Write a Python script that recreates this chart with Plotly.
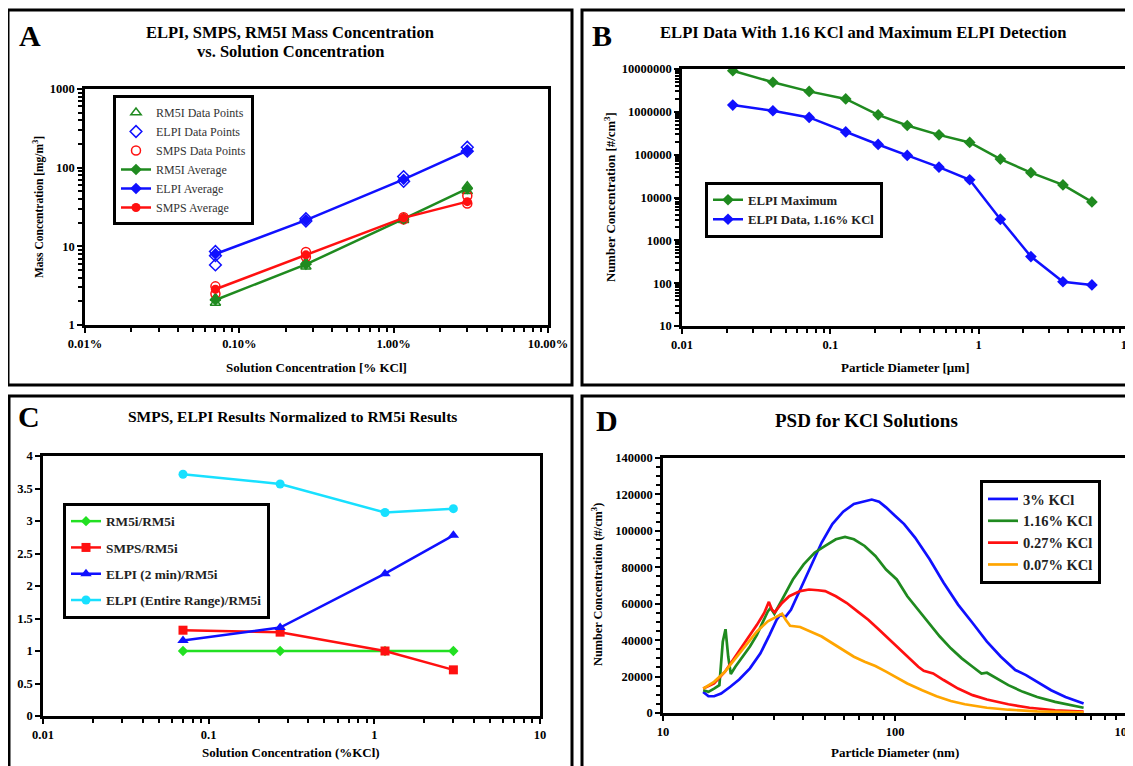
import plotly.graph_objects as go

FONT = "Liberation Serif"

# ---------------- Panel A data ----------------
a_conc = [0.07, 0.27, 1.16, 3.0]
a_rm5i_pts_x = [0.07, 0.07, 0.27, 0.27, 1.16, 1.16, 3.0, 3.0]
a_rm5i_pts_y = [1.9, 2.2, 5.5, 6.3, 21.5, 23.0, 50.0, 58.0]
a_elpi_pts_x = [0.07, 0.07, 0.07, 0.27, 0.27, 1.16, 1.16, 3.0, 3.0]
a_elpi_pts_y = [8.6, 5.8, 7.6, 21.0, 22.5, 77.0, 67.0, 182.0, 162.0]
a_smps_pts_x = [0.07, 0.07, 0.27, 0.27, 1.16, 1.16, 3.0, 3.0]
a_smps_pts_y = [3.1, 2.5, 8.5, 7.3, 23.5, 22.0, 44.0, 35.0]
a_rm5i_avg = [2.08, 5.9, 22.3, 54.0]
a_elpi_avg = [8.0, 21.5, 71.0, 165.0]
a_smps_avg = [2.85, 7.8, 23.0, 37.0]
a_xtick_vals = [0.01, 0.1, 1, 10]
a_xtick_text = ["0.01%", "0.10%", "1.00%", "10.00%"]
a_ytick_vals = [1, 10, 100, 1000]
a_ytick_text = ["1", "10", "100", "1000"]

# ---------------- Panel B data ----------------
b_diam = [0.022, 0.041, 0.072, 0.127, 0.21, 0.33, 0.54, 0.87, 1.4, 2.25, 3.7, 5.8]
b_max = [9.1e6, 4.9e6, 3.0e6, 2.0e6, 8.5e5, 4.8e5, 2.9e5, 1.93e5, 7.9e4, 3.8e4, 1.97e4, 7.9e3]
b_data = [1.44e6, 1.06e6, 7.4e5, 3.4e5, 1.73e5, 9.6e4, 5.1e4, 2.6e4, 3.1e3, 417, 108, 91]
b_xtick_vals = [0.01, 0.1, 1, 10]
b_xtick_text = ["0.01", "0.1", "1", "10"]
b_ytick_vals = [10, 100, 1000, 1e4, 1e5, 1e6, 1e7]
b_ytick_text = ["10", "100", "1000", "10000", "100000", "1000000", "10000000"]

# ---------------- Panel C data ----------------
c_conc = [0.07, 0.27, 1.16, 3.0]
c_rm5i = [1.0, 1.0, 1.0, 1.0]
c_smps = [1.32, 1.29, 1.0, 0.71]
c_elpi2 = [1.16, 1.36, 2.19, 2.78]
c_elpiall = [3.72, 3.57, 3.13, 3.19]
c_xtick_vals = [0.01, 0.1, 1, 10]
c_xtick_text = ["0.01", "0.1", "1", "10"]
c_ytick_vals = [0, 0.5, 1, 1.5, 2, 2.5, 3, 3.5, 4]
c_ytick_text = ["0", "0.5", "1", "1.5", "2", "2.5", "3", "3.5", "4"]

# ---------------- Panel D data ----------------
d3_x = [14.9, 15.7, 16.6, 17.8, 19.5, 21.3, 23.7, 26.3, 28.8, 30.9, 32.0, 33.8, 35.6, 39.0,
        43.4, 48.3, 53.7, 59.8, 66.5, 74.0, 79.4, 85.4, 91.5, 100, 109.5, 122, 141, 162,
        187, 216, 249, 286, 330, 367, 410, 471, 543, 650]
d3_y = [11600, 9200, 9200, 10700, 14400, 18400, 24500, 32800, 42900, 51200, 53800, 53000,
        56700, 67800, 80700, 93600, 103700, 110500, 114800, 116400, 117200, 116000, 112900,
        108300, 103700, 96300, 84400, 71500, 59500, 49400, 39200, 30900, 23600, 20800,
        17100, 12500, 8800, 5200]
d116_x = [14.9, 15.7, 16.6, 17.5, 18.1, 18.6, 19.1, 19.6, 20.5, 22.0, 23.7, 25.4, 27.3,
          28.3, 29.1, 30.2, 32.6, 36.3, 40.4, 45.0, 50.0, 55.6, 60.9, 66.5, 74.0, 82.3,
          91.5, 101.8, 113, 126, 141, 156, 174, 194, 216, 236, 249, 267, 308, 356, 410,
          490, 585, 650]
d116_y = [12500, 11600, 13400, 15300, 39200, 46000, 31000, 21400, 25400, 31000, 36500,
          42900, 51200, 55800, 57700, 54500, 62300, 73300, 81600, 88000, 91700, 95400,
          96700, 95400, 91700, 86200, 78800, 73300, 64100, 56700, 49400, 42000, 35500,
          30000, 25400, 21700, 22100, 19900, 15300, 11600, 8800, 6100, 4200, 2900]
d027_x = [14.9, 16.6, 18.5, 20.5, 22.8, 25.4, 27.3, 28.6, 29.5, 30.3, 32.6, 35.0, 39.0,
          42.6, 46.6, 50.0, 55.6, 62.0, 68.9, 76.7, 85.4, 95.0, 101.8, 113, 126, 133,
          146, 162, 187, 216, 249, 308, 380, 490, 650]
d027_y = [13400, 16200, 22700, 31000, 39200, 48400, 54900, 61000, 56700, 55300, 60400,
          64100, 66900, 67800, 67400, 66900, 64100, 60400, 55800, 51200, 45700, 40200,
          36100, 31000, 25400, 23200, 21700, 18100, 13400, 9800, 7400, 4800, 2900, 1500, 700]
d007_x = [14.9, 16.6, 18.5, 20.5, 22.8, 25.4, 28.3, 30.9, 32.6, 33.8, 35.3, 39.0, 43.4,
          48.3, 53.7, 59.8, 66.5, 74.0, 82.3, 91.5, 101.8, 113, 131, 151, 174, 200, 249,
          308, 410, 650]
d007_y = [13400, 17100, 22700, 30000, 37400, 44800, 50300, 53000, 54500, 51200, 47900,
          47200, 44800, 42000, 38300, 34600, 30900, 28200, 25800, 22700, 19500, 16200,
          12500, 9200, 6600, 4800, 2900, 1800, 900, 400]
d_xtick_vals = [10, 100, 1000]
d_xtick_text = ["10", "100", "1000"]
d_ytick_vals = [0, 20000, 40000, 60000, 80000, 100000, 120000, 140000]
d_ytick_text = ["0", "20000", "40000", "60000", "80000", "100000", "120000", "140000"]

W, H = 1133, 766
OFF = 8  # page body offset compensation


def px(x):
    return (x - OFF) / W


def py(y):
    return 1 - (y - OFF) / H


def log_minor(e0, e1):
    return [k * 10.0 ** e for e in range(e0, e1) for k in range(2, 10)]


GREEN = "#1f8a1f"
BLUE = "#1010ff"
RED = "#ff1010"
LGREEN = "#22e022"
CYAN = "#18e0ff"
ORANGE = "#ffa500"

fig = go.Figure()

# ---- Panel A traces ----
fig.add_trace(go.Scatter(x=a_rm5i_pts_x, y=a_rm5i_pts_y, mode="markers", name="RM5I Data Points",
                         marker=dict(symbol="triangle-up-open", color=GREEN, size=9, line=dict(width=1.5)),
                         xaxis="x", yaxis="y", legend="legend"))
fig.add_trace(go.Scatter(x=a_elpi_pts_x, y=a_elpi_pts_y, mode="markers", name="ELPI Data Points",
                         marker=dict(symbol="diamond-open", color=BLUE, size=9, line=dict(width=1.5)),
                         xaxis="x", yaxis="y", legend="legend"))
fig.add_trace(go.Scatter(x=a_smps_pts_x, y=a_smps_pts_y, mode="markers", name="SMPS Data Points",
                         marker=dict(symbol="circle-open", color=RED, size=9, line=dict(width=1.5)),
                         xaxis="x", yaxis="y", legend="legend"))
fig.add_trace(go.Scatter(x=a_conc, y=a_rm5i_avg, mode="lines+markers", name="RM5I Average",
                         line=dict(color=GREEN, width=2.5), marker=dict(symbol="diamond", size=9, color=GREEN),
                         xaxis="x", yaxis="y", legend="legend"))
fig.add_trace(go.Scatter(x=a_conc, y=a_elpi_avg, mode="lines+markers", name="ELPI Average",
                         line=dict(color=BLUE, width=2.5), marker=dict(symbol="diamond", size=9, color=BLUE),
                         xaxis="x", yaxis="y", legend="legend"))
fig.add_trace(go.Scatter(x=a_conc, y=a_smps_avg, mode="lines+markers", name="SMPS Average",
                         line=dict(color=RED, width=2.5), marker=dict(symbol="circle", size=9, color=RED),
                         xaxis="x", yaxis="y", legend="legend"))

# ---- Panel B traces ----
fig.add_trace(go.Scatter(x=b_diam, y=b_max, mode="lines+markers", name="ELPI Maximum",
                         line=dict(color=GREEN, width=2.5), marker=dict(symbol="diamond", size=9, color=GREEN),
                         xaxis="x2", yaxis="y2", legend="legend2"))
fig.add_trace(go.Scatter(x=b_diam, y=b_data, mode="lines+markers", name="ELPI Data, 1.16% KCl",
                         line=dict(color=BLUE, width=2.5), marker=dict(symbol="diamond", size=9, color=BLUE),
                         xaxis="x2", yaxis="y2", legend="legend2"))

# ---- Panel C traces ----
c_series = [
    ("RM5i/RM5i", c_rm5i, LGREEN, "diamond", 8),
    ("SMPS/RM5i", c_smps, RED, "square", 9),
    ("ELPI (2 min)/RM5i", c_elpi2, BLUE, "triangle-up", 10),
    ("ELPI (Entire Range)/RM5i", c_elpiall, CYAN, "circle", 9),
]
for i, (nm, vals, col, sym, sz) in enumerate(c_series):
    fig.add_trace(go.Scatter(x=c_conc, y=vals, mode="lines+markers", name=nm,
                             line=dict(color=col, width=2.5), marker=dict(symbol=sym, size=sz, color=col),
                             xaxis="x3", yaxis="y3", legend="legend3", legendgroup="c%d" % i))

# ---- Panel D traces ----
d_series = [
    ("3% KCl", d3_x, d3_y, BLUE),
    ("1.16% KCl", d116_x, d116_y, GREEN),
    ("0.27% KCl", d027_x, d027_y, RED),
    ("0.07% KCl", d007_x, d007_y, ORANGE),
]
for nm, xs, ys, col in d_series:
    fig.add_trace(go.Scatter(x=xs, y=ys, mode="lines", name=nm,
                             line=dict(color=col, width=2.7),
                             xaxis="x4", yaxis="y4", legend="legend4"))

tickfont = dict(family=FONT, size=12.5, color="black", weight="bold")
common = dict(showline=True, mirror=True, linecolor="black", linewidth=2.5, ticks="outside",
              ticklen=5, tickwidth=2, tickcolor="black", showgrid=False, zeroline=False,
              tickfont=tickfont, tickmode="array", automargin=False)


def minor_of(vals):
    return dict(tickmode="array", tickvals=vals, ticks="outside", ticklen=4, tickwidth=1.5,
                tickcolor="black", showgrid=False)


fig.update_layout(
    width=W, height=H, margin=dict(l=0, r=0, t=0, b=0, pad=0, autoexpand=False),
    paper_bgcolor="white", plot_bgcolor="white",
    xaxis=dict(common, type="log", range=[-2, 1], domain=[px(85), px(548)], anchor="y",
               tickvals=a_xtick_vals, ticktext=a_xtick_text, minor=minor_of(log_minor(-2, 1))),
    yaxis=dict(common, type="log", range=[0, 3], domain=[py(325), py(89)], anchor="x",
               tickvals=a_ytick_vals, ticktext=a_ytick_text, minor=minor_of(log_minor(0, 3))),
    xaxis2=dict(common, type="log", range=[-2, 1], domain=[px(682), px(1127)], anchor="y2",
                tickvals=b_xtick_vals, ticktext=b_xtick_text, minor=minor_of(log_minor(-2, 1))),
    yaxis2=dict(common, type="log", range=[1, 7], domain=[py(326), py(69)], anchor="x2",
                tickvals=b_ytick_vals, ticktext=b_ytick_text, minor=minor_of(log_minor(1, 7))),
    xaxis3=dict(common, type="log", range=[-2, 1], domain=[px(43), px(540)], anchor="y3",
                tickvals=c_xtick_vals, ticktext=c_xtick_text, minor=minor_of(log_minor(-2, 1))),
    yaxis3=dict(common, range=[0, 4], domain=[py(716), py(456)], anchor="x3",
                tickvals=c_ytick_vals, ticktext=c_ytick_text),
    xaxis4=dict(common, type="log", range=[1, 3], domain=[px(663), px(1127)], anchor="y4",
                tickvals=d_xtick_vals, ticktext=d_xtick_text, minor=minor_of(log_minor(1, 3))),
    yaxis4=dict(common, range=[0, 140000], domain=[py(713), py(458)], anchor="x4",
                tickvals=d_ytick_vals, ticktext=d_ytick_text,
                minor=minor_of(list(range(0, 140001, 5000)))),
    legend=dict(x=px(113), y=py(95), xanchor="left", yanchor="top", bgcolor="white",
                bordercolor="black", borderwidth=3,
                font=dict(family=FONT, size=12, color="#333")),
    legend2=dict(x=px(705), y=py(182), xanchor="left", yanchor="top", bgcolor="white",
                 bordercolor="black", borderwidth=3,
                 font=dict(family=FONT, size=12.7, color="#222", weight="bold")),
    legend3=dict(x=px(63), y=py(503), xanchor="left", yanchor="top", bgcolor="white",
                 bordercolor="black", borderwidth=3, tracegroupgap=6, traceorder="grouped",
                 font=dict(family=FONT, size=13.3, color="#222", weight="bold")),
    legend4=dict(x=px(980), y=py(480), xanchor="left", yanchor="top", bgcolor="white",
                 bordercolor="black", borderwidth=3,
                 font=dict(family=FONT, size=14.5, color="#222", weight="bold")),
)

# Panel frames
frames = [(8, 10, 572, 385), (582, 10, 1150, 385), (9, 396, 572, 785), (582, 396, 1150, 785)]
for x0, y0, x1, y1 in frames:
    fig.add_shape(type="rect", xref="paper", yref="paper", x0=px(x0), y0=py(y0), x1=px(x1), y1=py(y1),
                  line=dict(color="black", width=3), fillcolor="rgba(0,0,0,0)", layer="below")


def ann(text, x, y, size, angle=0, bold=True):
    fig.add_annotation(text=text, x=px(x), y=py(y), xref="paper", yref="paper", showarrow=False,
                       textangle=angle, xanchor="center", yanchor="middle",
                       font=dict(family=FONT, size=size, color="black", weight="bold" if bold else "normal"))


# Panel letters
ann("A", 30, 36, 30)
ann("B", 602, 36, 30)
ann("C", 29, 417, 30)
ann("D", 607, 420, 30)

# Titles
ann("ELPI, SMPS, RM5I Mass Concentration", 290, 32, 16.5)
ann("vs. Solution Concentration", 290, 52, 16.5)
ann("ELPI Data With 1.16 KCl and Maximum ELPI Detection", 863, 32, 16.6)
ann("SMPS, ELPI Results Normalized to RM5i Results", 292, 417, 15.5)
ann("PSD for KCl Solutions", 866, 420, 19)

# Axis titles
ann("Mass Concentration [mg/m<sup>3</sup>]", 38, 207, 11.5, angle=-90)
ann("Solution Concentration [% KCl]", 316, 367, 13)
ann("Number Concentration [#/cm<sup>3</sup>]", 610, 197, 12.8, angle=-90)
ann("Particle Diameter [µm]", 905, 367, 13)
ann("Solution Concentration (%KCl)", 291, 752, 13)
ann("Number Concentration (#/cm<sup>3</sup>)", 597, 585, 12.3, angle=-90)
ann("Particle Diameter (nm)", 895, 752, 13)

fig.write_html("out.html")
